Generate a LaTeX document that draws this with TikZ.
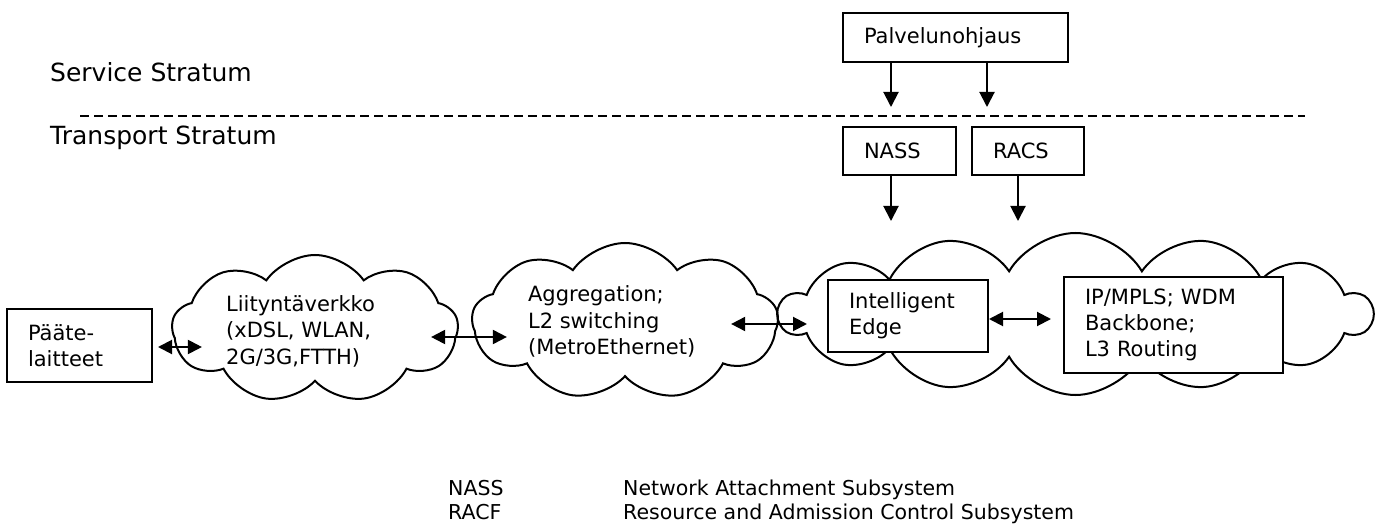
\documentclass[tikz,border=0pt]{standalone}
\usepackage{fontspec}
\setmainfont{DejaVu Sans}
\usetikzlibrary{arrows.meta,shapes.symbols,positioning}

\tikzset{
  box/.style={draw, line width=2pt, fill=white, align=left, inner xsep=21pt, inner ysep=0pt, font=\fontsize{21}{26}\selectfont},
  netcloud/.style={cloud, draw, line width=2pt, cloud ignores aspect, cloud puff arc=110, inner sep=0pt},
  cloudtext/.style={inner sep=0pt, anchor=west, align=left, font=\fontsize{21}{26.5}\selectfont},
  downarr/.style={line width=2pt, -{Triangle[length=15pt,width=15pt]}},
  twoway/.style={line width=2pt, {Triangle[length=14pt,width=14pt]}-{Triangle[length=14pt,width=14pt]}},
  stratum/.style={inner sep=0pt, anchor=base west, font=\fontsize{25}{30}\selectfont},
  legend/.style={inner sep=0pt, anchor=base west, font=\fontsize{20.5}{24}\selectfont},
}

\begin{document}
\begin{tikzpicture}[x=1pt, y=-1pt]
      \useasboundingbox (0,0) rectangle (1382,524);

      % strata
      \node[stratum] (service) at (50,82) {Service Stratum};
      \node[stratum] (transport) at (50,145) {Transport Stratum};
      \draw[line width=1.5pt, dash pattern=on 9pt off 5pt] (80,116) -- (1305,116);

      % control boxes
      \node[box, minimum width=225, minimum height=49, text width=183] (ctrl) at (955.5,37.5) {Palvelunohjaus};
      \node[box, minimum width=113, minimum height=48, text width=71] (nass) at (899.5,151) {NASS};
      \node[box, minimum width=112, minimum height=48, text width=70] (racs) at (1028,151) {RACS};

      % networks
      \node[netcloud, cloud puffs=9, minimum width=286, minimum height=148] (access) at (315,329) {};
      \node[netcloud, cloud puffs=9, minimum width=306, minimum height=157] (agg) at (625,321.5) {};
      \node[netcloud, cloud puffs=14, cloud puff arc=120, minimum width=593, minimum height=162] (core) at (1075.5,314) {};
      \node[cloudtext] (accesstext) at ([xshift=55pt,yshift=-2pt]access.west) {Liityntäverkko\\(xDSL, WLAN,\\2G/3G,FTTH)};
      \node[cloudtext] (aggtext) at ([xshift=57pt]agg.west) {Aggregation;\\L2 switching\\(MetroEthernet)};

      \node[box, minimum width=145, minimum height=73, text width=103] (paate) at (79.5,345.5) {Pääte-\\laitteet};
      \node[box, minimum width=160, minimum height=72, text width=118] (edge) at (908,316) {Intelligent\\Edge};
      \node[box, minimum width=219, minimum height=96, text width=177] (backbone) at (1173.5,325) {IP/MPLS; WDM\\Backbone;\\L3 Routing};

      % arrows
      \draw[downarr, shorten >=19pt] ([xshift=49pt]ctrl.south west) -- ([xshift=49pt]ctrl.south west |- nass.north);
      \draw[downarr, shorten >=19pt] ([xshift=145pt]ctrl.south west) -- ([xshift=145pt]ctrl.south west |- racs.north);
      \draw[downarr, shorten >=11pt] ([xshift=49pt]nass.south west) -- ([xshift=49pt]nass.south west |- core.north);
      \draw[downarr, shorten >=11pt] ([xshift=47pt]racs.south west) -- ([xshift=47pt]racs.south west |- core.north);

      \draw[twoway, shorten <=5pt, shorten >=-31pt] ([yshift=-1.5pt]paate.east) -- ([yshift=-1.5pt]paate.east -| access.west);
      \draw[twoway, shorten <=-28pt, shorten >=-36pt] ([yshift=-8pt]access.east) -- ([yshift=-8pt]access.east -| agg.west);
      \draw[twoway, shorten <=-48pt, shorten >=20pt] ([yshift=-2.5pt]agg.east) -- ([yshift=-2.5pt]agg.east -| edge.west);
      \draw[twoway, shorten >=12pt] ([yshift=-3pt]edge.east) -- ([yshift=-3pt]edge.east -| backbone.west);

      % legend
      \node[legend] (lnass) at (448,495) {NASS};
      \node[legend] (lnasstext) at (623,495) {Network Attachment Subsystem};
      \node[legend] (lracf) at (448,519) {RACF};
      \node[legend] (lracftext) at (623,519) {Resource and Admission Control Subsystem};

    \end{tikzpicture}
\end{document}
